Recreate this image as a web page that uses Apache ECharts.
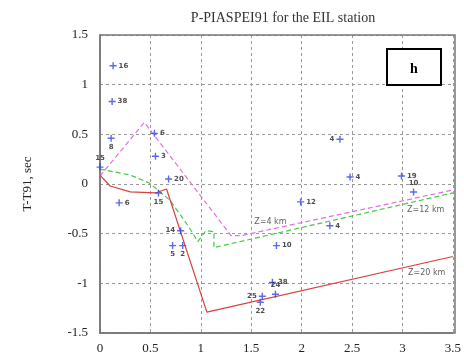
<!DOCTYPE html>
<html>
<head>
<meta charset="utf-8">
<script src="https://cdn.jsdelivr.net/npm/echarts@6/dist/echarts.min.js"></script>
<style>
  html, body { margin: 0; padding: 0; background: #fff; }
  #chart { width: 464px; height: 355px; }
</style>
</head>
<body>
<div id="chart"></div>
<script>
// observed residuals (distance, T-T91) with station numbers
let obsX = [0.13, 0.12, 0.11, 0.54, 0.55, 0.0, 0.19, 0.58, 0.68, 0.80, 0.72, 0.82,
    1.99, 1.75, 1.71, 1.74, 1.61, 1.59, 2.28, 2.48, 2.99, 3.11, 2.38];
let obsY = [1.19, 0.83, 0.46, 0.51, 0.28, 0.17, -0.19, -0.09, 0.05, -0.47, -0.62, -0.62,
    -0.18, -0.62, -0.99, -1.11, -1.13, -1.19, -0.42, 0.07, 0.08, -0.08, 0.45];
let obsNames = ["16", "38", "8", "6", "3", "15", "6", "15", "20", "14", "5", "2",
    "12", "10", "38", "24", "25", "22", "4", "4", "19", "10", "4"];
// where each number sits next to its cross
let labelSide = ["right", "right", "bottom", "right", "right", "top", "right", "bottom", "right", "left", "bottom", "bottom",
    "right", "right", "right", "top", "left", "bottom", "right", "right", "right", "top", "left"];

// model curves for different source depths
let z4X = [0.0, 0.44, 1.30, 1.40, 3.5];
let z4Y = [0.08, 0.62, -0.52, -0.52, -0.06];
let z12X = [0.0, 0.30, 0.49, 0.69, 0.88, 0.97, 1.05, 1.13, 1.13, 3.5];
let z12Y = [0.15, 0.09, 0.01, -0.16, -0.43, -0.58, -0.47, -0.48, -0.64, -0.09];
let z20X = [0.0, 0.10, 0.30, 0.55, 0.66, 1.06, 3.5];
let z20Y = [0.09, -0.02, -0.08, -0.09, -0.05, -1.29, -0.73];

let curveNames = ["Z=4 km", "Z=12 km", "Z=20 km"];
let curveTagX = [1.69, 3.23, 3.24];
let curveTagY = [-0.38, -0.26, -0.9];

function pairs(xs, ys) {
    let out = [];
    for (let i = 0; i < xs.length; i++) {
        out.push([xs[i], ys[i]]);
    }
    return out;
}

let obsData = [];
for (let i = 0; i < obsX.length; i++) {
    obsData.push({
        value: [obsX[i], obsY[i]],
        name: obsNames[i],
        label: { position: labelSide[i] },
    });
}

let tagData = [];
for (let i = 0; i < curveNames.length; i++) {
    tagData.push({ value: [curveTagX[i], curveTagY[i]], name: curveNames[i] });
}

let serif = "Liberation Serif";
let chart = echarts.init(document.getElementById("chart"));
chart.setOption({
    animation: false,
    title: {
        text: "P-PIASPEI91 for the EIL station",
        left: 278,
        top: 6,
        textAlign: "center",
        textStyle: { fontFamily: serif, fontSize: 14, fontWeight: "normal", color: "#333" },
    },
    grid: { left: 100, right: 9, top: 35, bottom: 22 },
    xAxis: {
        type: "value",
        min: 0,
        max: 3.5,
        interval: 0.5,
        axisLine: { show: true, onZero: false, lineStyle: { color: "#777", width: 1.5 } },
        axisTick: { show: false },
        axisLabel: { fontFamily: serif, fontSize: 13, color: "#222", margin: 9 },
        splitLine: { show: true, lineStyle: { color: "#999", type: [3, 3] } },
    },
    yAxis: {
        type: "value",
        min: -1.5,
        max: 1.5,
        interval: 0.5,
        name: "T-T91, sec",
        nameLocation: "middle",
        nameGap: 66,
        nameTextStyle: { fontFamily: serif, fontSize: 13, color: "#222" },
        axisLine: { show: true, lineStyle: { color: "#777", width: 1.5 } },
        axisTick: { show: false },
        axisLabel: { fontFamily: serif, fontSize: 13, color: "#222", margin: 12 },
        splitLine: { show: true, lineStyle: { color: "#999", type: [3, 3] } },
    },
    graphic: [
        {
            type: "rect",
            shape: { x: 100, y: 35, width: 355, height: 298 },
            style: { fill: "none", stroke: "#777", lineWidth: 1.5 },
            z: 1,
        },
        {
            type: "rect",
            shape: { x: 387, y: 49, width: 54, height: 36 },
            style: { fill: "#fff", stroke: "#000", lineWidth: 2 },
            z: 10,
        },
        {
            type: "text",
            x: 414,
            y: 69,
            style: {
                text: "h",
                fontFamily: serif,
                fontSize: 14,
                fontWeight: "bold",
                fill: "#000",
                align: "center",
                verticalAlign: "middle",
            },
            z: 11,
        },
    ],
    series: [
        {
            type: "line",
            data: pairs(z4X, z4Y),
            symbol: "none",
            lineStyle: { color: "#e070e0", width: 1.2, type: [5, 3] },
        },
        {
            type: "line",
            data: pairs(z12X, z12Y),
            symbol: "none",
            lineStyle: { color: "#40cc40", width: 1.2, type: [5, 3] },
        },
        {
            type: "line",
            data: pairs(z20X, z20Y),
            symbol: "none",
            lineStyle: { color: "#d84040", width: 1.2 },
        },
        {
            type: "scatter",
            data: obsData,
            symbol: "path://M4,0h2v4h4v2h-4v4h-2v-4h-4v-2h4z",
            symbolSize: 7,
            itemStyle: { color: "#3344dd" },
            label: {
                show: true,
                formatter: "{b}",
                distance: 2,
                fontFamily: "DejaVu Sans",
                fontSize: 7,
                fontWeight: "bold",
                color: "#222",
            },
            z: 5,
        },
        {
            type: "scatter",
            data: tagData,
            symbolSize: 0,
            label: {
                show: true,
                position: "inside",
                formatter: "{b}",
                fontFamily: "DejaVu Sans",
                fontSize: 8,
                color: "#333",
            },
            z: 6,
        },
    ],
});
</script>
</body>
</html>
